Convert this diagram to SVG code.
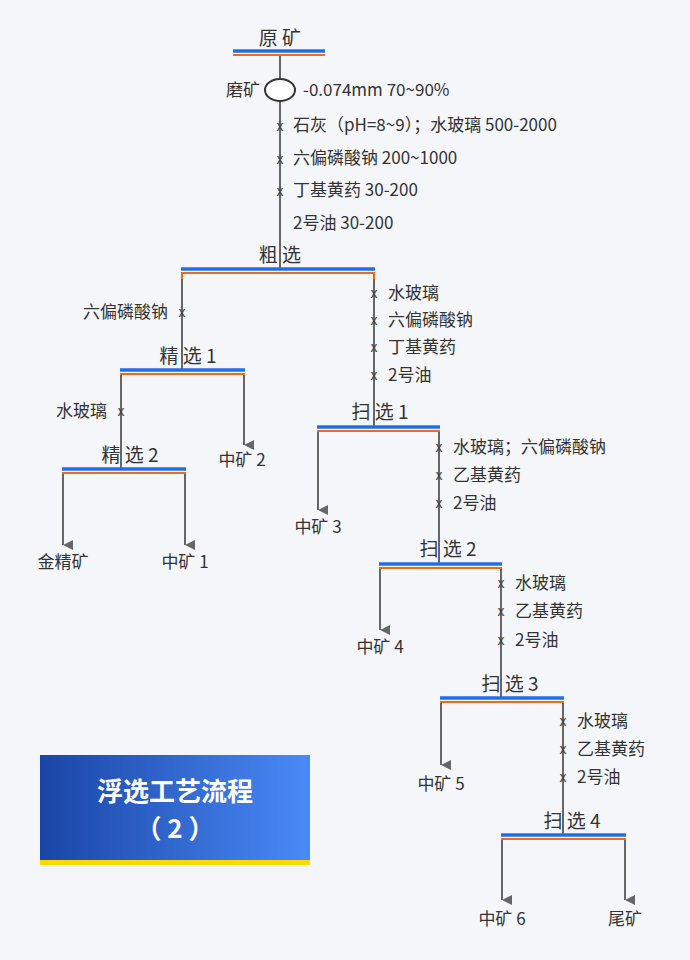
<svg xmlns="http://www.w3.org/2000/svg" width="690" height="960" viewBox="0 0 690 960">
<style>
text{font-family:"Noto Sans CJK SC","Noto Sans",sans-serif;fill:#333}
.r{font-size:17px}
.s{font-size:19px;text-anchor:middle}
.e{text-anchor:end}
.m{text-anchor:middle}
.x{font-size:14px;text-anchor:middle;fill:#444}
.b{stroke:#1f6fe8;stroke-width:3.5}
.o{stroke:#f06a1a;stroke-width:2.2}
.l{stroke:#666;stroke-width:2;fill:none}
.t{fill:#fff;font-size:26px;font-weight:bold;text-anchor:middle}
</style>
<defs>
<marker id="a" viewBox="0 0 10 10" refX="5" refY="10" markerWidth="10" markerHeight="10" markerUnits="userSpaceOnUse" orient="auto-start-reverse"><path d="M0,0L10,0L5,10z" fill="#666" transform="rotate(0)"/></marker>
<linearGradient id="g" x1="0" x2="1"><stop offset="0" stop-color="#1a45a6"/><stop offset="1" stop-color="#4a8af7"/></linearGradient>
</defs>
<rect width="690" height="960" fill="#f5f6fa"/>
<g id="connectors">
<path class="l" d="M280,56V79M280,101V269"/>
<path class="l" d="M182,273V370M374,273V427"/>
<path class="l" d="M121,374V469"/>
<path class="l" d="M244,374V445" marker-end="url(#a)"/>
<path class="l" d="M63,473V545" marker-end="url(#a)"/>
<path class="l" d="M185,473V545" marker-end="url(#a)"/>
<path class="l" d="M318,431V510" marker-end="url(#a)"/>
<path class="l" d="M439,431V564"/>
<path class="l" d="M380,568V630" marker-end="url(#a)"/>
<path class="l" d="M501,568V698"/>
<path class="l" d="M441,702V765" marker-end="url(#a)"/>
<path class="l" d="M563,702V835"/>
<path class="l" d="M502,839V900" marker-end="url(#a)"/>
<path class="l" d="M625,839V900" marker-end="url(#a)"/>
</g>
<g id="yuankuang"><text class="s" x="280" y="45">原 矿</text><line class="b" x1="233" x2="325" y1="51" y2="51"/><line class="o" x1="233" x2="325" y1="55" y2="55"/></g>
<g id="mokuang"><ellipse cx="280" cy="90" rx="15" ry="11" fill="#fff" stroke="#333" stroke-width="2"/><text class="r e" x="260" y="96">磨矿</text><text class="r" x="303" y="96">-0.074mm  70~90%</text></g>
<g id="r0">
<text class="x" x="280" y="131">x</text><text class="r" x="293" y="131">石灰（pH=8~9）；水玻璃 500-2000</text>
<text class="x" x="280" y="164">x</text><text class="r" x="293" y="164">六偏磷酸钠 200~1000</text>
<text class="x" x="280" y="196">x</text><text class="r" x="293" y="196">丁基黄药 30-200</text>
<text class="r" x="293" y="229">2号油 30-200</text>
</g>
<g id="cuxuan"><text class="s" x="280" y="262">粗 选</text><line class="b" x1="181" x2="375" y1="269" y2="269"/><path class="o" d="M182,279V273H374V279" fill="none"/></g>
<g id="r1"><text class="x" x="182" y="317">x</text><text class="r e" x="168" y="318">六偏磷酸钠</text></g>
<g id="r2">
<text class="x" x="374" y="298">x</text><text class="r" x="388" y="299">水玻璃</text>
<text class="x" x="374" y="325">x</text><text class="r" x="388" y="326">六偏磷酸钠</text>
<text class="x" x="374" y="352">x</text><text class="r" x="388" y="353">丁基黄药</text>
<text class="x" x="374" y="380">x</text><text class="r" x="388" y="381">2号油</text>
</g>
<g id="jingxuan1"><text class="s" x="188" y="363">精 选 1</text><line class="b" x1="120" x2="245" y1="370" y2="370"/><line class="o" x1="120" x2="245" y1="374" y2="374"/></g>
<g id="r3"><text class="x" x="121" y="416">x</text><text class="r e" x="107" y="417">水玻璃</text></g>
<g id="zk2"><text class="r m" x="242" y="466">中矿 2</text></g>
<g id="jingxuan2"><text class="s" x="130" y="462">精 选 2</text><line class="b" x1="62" x2="186" y1="469" y2="469"/><line class="o" x1="62" x2="186" y1="473" y2="473"/></g>
<g id="jjk"><text class="r m" x="63" y="568">金精矿</text></g>
<g id="zk1"><text class="r m" x="185" y="568">中矿 1</text></g>
<g id="saoxuan1"><text class="s" x="380" y="419">扫 选 1</text><line class="b" x1="317" x2="440" y1="427" y2="427"/><line class="o" x1="317" x2="440" y1="431" y2="431"/></g>
<g id="zk3"><text class="r m" x="318" y="533">中矿 3</text></g>
<g id="r4">
<text class="x" x="439" y="452">x</text><text class="r" x="453" y="453">水玻璃；六偏磷酸钠</text>
<text class="x" x="439" y="480">x</text><text class="r" x="453" y="481">乙基黄药</text>
<text class="x" x="439" y="508">x</text><text class="r" x="453" y="509">2号油</text>
</g>
<g id="saoxuan2"><text class="s" x="448" y="556">扫 选 2</text><line class="b" x1="379" x2="502" y1="564" y2="564"/><line class="o" x1="379" x2="502" y1="568" y2="568"/></g>
<g id="zk4"><text class="r m" x="380" y="653">中矿 4</text></g>
<g id="r5">
<text class="x" x="501" y="588">x</text><text class="r" x="515" y="589">水玻璃</text>
<text class="x" x="501" y="616">x</text><text class="r" x="515" y="617">乙基黄药</text>
<text class="x" x="501" y="645">x</text><text class="r" x="515" y="646">2号油</text>
</g>
<g id="saoxuan3"><text class="s" x="510" y="691">扫 选 3</text><line class="b" x1="440" x2="564" y1="698" y2="698"/><line class="o" x1="440" x2="564" y1="702" y2="702"/></g>
<g id="zk5"><text class="r m" x="441" y="790">中矿 5</text></g>
<g id="r6">
<text class="x" x="563" y="726">x</text><text class="r" x="577" y="727">水玻璃</text>
<text class="x" x="563" y="754">x</text><text class="r" x="577" y="755">乙基黄药</text>
<text class="x" x="563" y="782">x</text><text class="r" x="577" y="783">2号油</text>
</g>
<g id="saoxuan4"><text class="s" x="572" y="828">扫 选 4</text><line class="b" x1="501" x2="626" y1="835" y2="835"/><line class="o" x1="501" x2="626" y1="839" y2="839"/></g>
<g id="zk6"><text class="r m" x="502" y="925">中矿 6</text></g>
<g id="weikuang"><text class="r m" x="625" y="925">尾矿</text></g>
<g id="title"><rect x="40" y="755" width="270" height="106" fill="url(#g)"/><rect x="40" y="860" width="270" height="5" fill="#ffd800"/><text class="t" x="175" y="801">浮选工艺流程</text><text class="t" x="175" y="838">（ 2 ）</text></g>
</svg>
